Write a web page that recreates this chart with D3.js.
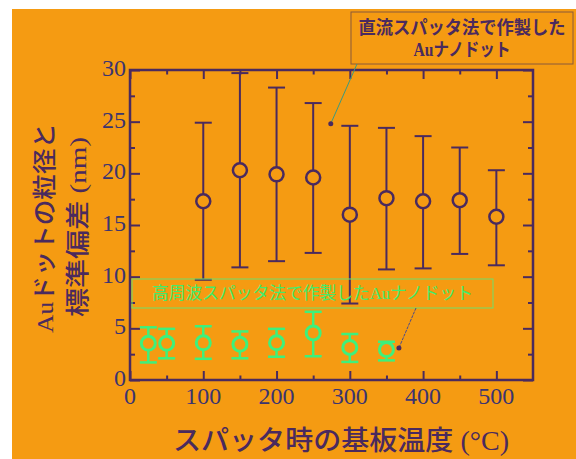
<!DOCTYPE html>
<html><head><meta charset="utf-8">
<script src="https://cdn.jsdelivr.net/npm/d3@7"></script>
<style>html,body{margin:0;padding:0;background:#fff;}svg{display:block;}</style>
</head><body>
<svg id="c" width="576" height="459"></svg>
<script>
// DC sputtered Au nanodots
const tempsDC = [100,150,200,250,300,350,400,450,500];
const meanDC  = [17.3,20.3,19.9,19.6,16.0,17.6,17.3,17.4,15.8];
const upperDC = [24.9,29.7,28.3,26.8,24.6,24.4,23.6,22.5,20.3];
const lowerDC = [9.7,10.9,11.5,12.3,7.4,10.7,10.8,12.2,11.1];
// RF sputtered Au nanodots
const tempsRF = [25,50,100,150,200,250,300,350];
const meanRF  = [3.55,3.55,3.6,3.45,3.6,4.55,3.15,2.95];
const upperRF = [5.1,4.95,5.2,4.7,4.95,6.6,4.45,3.7];
const lowerRF = [1.7,2.1,2.05,2.1,2.25,2.3,1.75,1.9];
// axis ticks
const xMajor = [0,100,200,300,400,500];
const xMinor = [50,150,250,350,450];
const yMajor = [0,5,10,15,20,25,30];
const yMinor = [2.5,7.5,12.5,17.5,22.5,27.5];
// texts
const xTitle = "スパッタ時の基板温度 (°C)";
const yTitle1 = "Auドットの粒径と";
const yTitle2 = "標準偏差 (nm)";
const noteDC = ["直流スパッタ法で作製した","Auナノドット"];
const noteRF = "高周波スパッタ法で作製したAuナノドット";
const anchorDC = [274, 24.8];
const anchorRF = [367, 3.1];

const svg = d3.select("#c");
const BG = "#F59B12", DARK = "#4a2a5e", GREEN = "#3ef07c", TXT = "#3b3470";
const L = 130, R = 533, T = 70, B = 380;

svg.append("rect").attr("x",12).attr("y",9).attr("width",564).attr("height",450).attr("fill",BG);

const x = d3.scaleLinear().domain([0,550]).range([L,R]);
const y = d3.scaleLinear().domain([0,30]).range([B,T]);

// ticks via axes
function tickAxis(gen, tr, vals, size){
  const g = svg.append("g").attr("transform",tr)
    .call(gen.tickValues(vals).tickSize(size).tickFormat(""));
  g.select(".domain").remove();
  g.selectAll("line").attr("stroke",DARK).attr("stroke-width",2);
}
tickAxis(d3.axisTop(x), `translate(0,${B})`, xMajor, 9);
tickAxis(d3.axisTop(x), `translate(0,${B})`, xMinor, 4.5);
tickAxis(d3.axisBottom(x), `translate(0,${T})`, xMajor, 9);
tickAxis(d3.axisBottom(x), `translate(0,${T})`, xMinor, 4.5);
tickAxis(d3.axisRight(y), `translate(${L},0)`, yMajor, 10);
tickAxis(d3.axisRight(y), `translate(${L},0)`, yMinor, 5);
tickAxis(d3.axisLeft(y), `translate(${R},0)`, yMajor, 10);
tickAxis(d3.axisLeft(y), `translate(${R},0)`, yMinor, 5);

svg.append("rect").attr("x",L).attr("y",T).attr("width",R-L).attr("height",B-T)
  .attr("fill","none").attr("stroke",DARK).attr("stroke-width",2.5);

// tick labels
svg.append("g").selectAll("text").data(yMajor).join("text")
  .attr("x",126).attr("y",d=>y(d)-2).attr("text-anchor","end").attr("dominant-baseline","central")
  .attr("font-family","Liberation Serif").attr("font-size",24).attr("fill",TXT).text(d=>d);
svg.append("g").selectAll("text").data(xMajor).join("text")
  .attr("x",d=>x(d)).attr("y",404).attr("text-anchor","middle")
  .attr("font-family","Liberation Serif").attr("font-size",24).attr("fill",TXT).text(d=>d);

// titles
const CJK = "'Liberation Serif','Noto Sans CJK JP'";
svg.append("text").attr("x",173).attr("y",450).attr("textLength",336).attr("lengthAdjust","spacingAndGlyphs")
  .attr("font-family",CJK).attr("font-size",27).attr("font-weight",500).attr("fill",DARK).text(xTitle);
svg.append("text").attr("transform","translate(45,333) rotate(-90)").attr("dominant-baseline","central")
  .attr("textLength",210).attr("lengthAdjust","spacingAndGlyphs")
  .attr("font-family",CJK).attr("font-size",24).attr("font-weight",500).attr("fill",DARK).text(yTitle1);
svg.append("text").attr("transform","translate(78,317) rotate(-90)").attr("dominant-baseline","central")
  .attr("textLength",180).attr("lengthAdjust","spacingAndGlyphs")
  .attr("font-family",CJK).attr("font-size",24).attr("font-weight",500).attr("fill",DARK).text(yTitle2);

// error bars + markers
function series(temps, mean, up, lo, color, cap, r, sw){
  const g = svg.append("g");
  const d = temps.map((t,i)=>({t, m:mean[i], u:up[i], l:lo[i]}));
  g.selectAll(".v").data(d).join("line").attr("x1",e=>x(e.t)).attr("x2",e=>x(e.t))
    .attr("y1",e=>y(e.u)).attr("y2",e=>y(e.l)).attr("stroke",color).attr("stroke-width",sw);
  g.selectAll(".cu").data(d).join("line").attr("x1",e=>x(e.t)-cap).attr("x2",e=>x(e.t)+cap)
    .attr("y1",e=>y(e.u)).attr("y2",e=>y(e.u)).attr("stroke",color).attr("stroke-width",sw);
  g.selectAll(".cl").data(d).join("line").attr("x1",e=>x(e.t)-cap).attr("x2",e=>x(e.t)+cap)
    .attr("y1",e=>y(e.l)).attr("y2",e=>y(e.l)).attr("stroke",color).attr("stroke-width",sw);
  g.selectAll("circle").data(d).join("circle").attr("cx",e=>x(e.t)).attr("cy",e=>y(e.m)).attr("r",r)
    .attr("fill",BG).attr("stroke",color).attr("stroke-width",sw+0.5);
}
series(tempsDC, meanDC, upperDC, lowerDC, DARK, 8.5, 7, 2);
series(tempsRF, meanRF, upperRF, lowerRF, GREEN, 8.5, 7, 2.5);

// annotation DC
svg.append("rect").attr("x",351).attr("y",12).attr("width",222).attr("height",52)
  .attr("fill",BG).attr("stroke","#8a5a3a").attr("stroke-width",1);
svg.append("text").attr("x",462).attr("y",28).attr("text-anchor","middle").attr("dominant-baseline","central")
  .attr("textLength",207).attr("lengthAdjust","spacingAndGlyphs")
  .attr("font-family",CJK).attr("font-size",18).attr("font-weight",700).attr("fill",DARK).text(noteDC[0]);
svg.append("text").attr("x",462).attr("y",50).attr("text-anchor","middle").attr("dominant-baseline","central")
  .attr("textLength",97).attr("lengthAdjust","spacingAndGlyphs")
  .attr("font-family",CJK).attr("font-size",18).attr("font-weight",700).attr("fill",DARK).text(noteDC[1]);
svg.append("line").attr("x1",357).attr("y1",64).attr("x2",x(anchorDC[0])).attr("y2",y(anchorDC[1]))
  .attr("stroke","#3a9a80").attr("stroke-width",1);
svg.append("circle").attr("cx",x(anchorDC[0])).attr("cy",y(anchorDC[1])).attr("r",2.5).attr("fill",DARK);

// annotation RF
svg.append("rect").attr("x",132).attr("y",279).attr("width",361).attr("height",29)
  .attr("fill","none").attr("stroke","#6fe06a").attr("stroke-width",1);
svg.append("text").attr("x",152).attr("y",293).attr("dominant-baseline","central")
  .attr("textLength",321).attr("lengthAdjust","spacingAndGlyphs")
  .attr("font-family",CJK).attr("font-size",17.5).attr("font-weight",400).attr("fill","#45ea6a").text(noteRF);
svg.append("line").attr("x1",416).attr("y1",308).attr("x2",x(anchorRF[0])).attr("y2",y(anchorRF[1]))
  .attr("stroke","#4a4a8a").attr("stroke-width",1).attr("stroke-dasharray","3,1");
svg.append("circle").attr("cx",x(anchorRF[0])).attr("cy",y(anchorRF[1])).attr("r",2.5).attr("fill",DARK);
</script>
</body></html>
